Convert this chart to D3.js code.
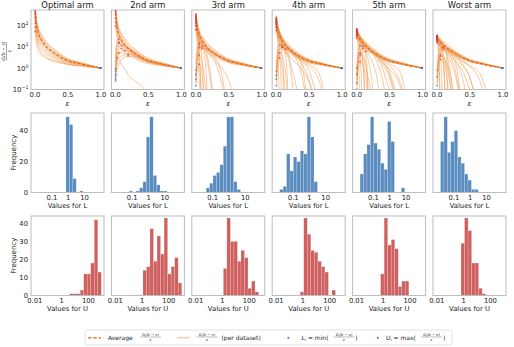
<!DOCTYPE html>
<html>
<head>
<meta charset="utf-8">
<script src="https://cdn.jsdelivr.net/npm/d3@7"></script>
<style>
  body { margin: 0; background: #fff; }
  svg { font-family: "DejaVu Sans", sans-serif; }
</style>
</head>
<body>
<svg id="chart" width="514" height="347"></svg>
<script>
// ---- data ----
const armTitles = ["Optimal arm", "2nd arm", "3rd arm", "4th arm", "5th arm", "Worst arm"];

// epsilon values where every curve is sampled
const epsGrid = [0.01, 0.03, 0.06, 0.1, 0.15, 0.2, 0.3, 0.4, 0.5, 0.65, 0.8, 1.0];

// average G(b-eps)/eps, one per arm
const avgCurves = [
  [420, 105, 40, 21, 12.5, 8.4, 4.9, 3.1, 2.2, 1.7, 1.32, 1.0],
  [380, 95, 37, 20, 12, 8.2, 4.8, 3.1, 2.2, 1.68, 1.32, 1.0],
  [200, 80, 35, 19, 11.5, 7.8, 4.5, 3.0, 2.2, 1.66, 1.31, 1.0],
  [140, 65, 32, 18, 11.3, 7.9, 4.6, 3.0, 2.15, 1.65, 1.3, 1.0],
  [40, 30, 21, 14.5, 10.2, 7.6, 4.6, 3.05, 2.2, 1.68, 1.32, 1.0],
  [24, 19.5, 15.5, 12, 9.1, 7.1, 4.5, 3.0, 2.2, 1.68, 1.32, 1.0]
];

// per dataset curves that stay in the main band
const bandCurves = [
  [
    [900, 200, 75, 40, 22, 14, 7.5, 4.3, 2.8, 2.0, 1.5, 1.0],
    [750, 170, 62, 33, 19, 12, 6.6, 4.0, 2.6, 1.9, 1.45, 1.0],
    [600, 140, 52, 28, 16, 10.5, 5.8, 3.6, 2.45, 1.8, 1.4, 1.0],
    [480, 115, 44, 24, 14, 9.2, 5.2, 3.3, 2.3, 1.75, 1.35, 1.0],
    [380, 95, 37, 20, 12, 8.0, 4.6, 3.0, 2.15, 1.65, 1.3, 1.0],
    [300, 78, 31, 17, 10, 6.9, 4.1, 2.7, 2.0, 1.6, 1.28, 1.0],
    [230, 62, 25, 14, 8.5, 6.0, 3.6, 2.5, 1.9, 1.5, 1.25, 1.0],
    [170, 48, 19, 11, 7.0, 5.0, 3.1, 2.2, 1.75, 1.45, 1.2, 1.0],
    [120, 35, 14, 8.0, 5.5, 4.0, 2.7, 2.0, 1.6, 1.38, 1.18, 1.0],
    [80, 25, 10, 5.5, 3.9, 3.0, 2.2, 1.8, 1.5, 1.3, 1.15, 1.0],
    [50, 14, 6, 4.2, 3.2, 2.6, 2.0, 1.7, 1.45, 1.28, 1.13, 1.0]
  ],
  [
    [900, 210, 78, 41, 23, 15, 7.8, 4.4, 2.9, 2.0, 1.5, 1.0],
    [700, 165, 62, 33, 19, 12.5, 6.7, 4.0, 2.6, 1.9, 1.45, 1.0],
    [520, 130, 50, 27, 16, 10.5, 5.8, 3.6, 2.45, 1.8, 1.4, 1.0],
    [400, 100, 40, 22, 13, 9.0, 5.1, 3.2, 2.3, 1.7, 1.35, 1.0],
    [300, 80, 32, 18, 11, 7.6, 4.5, 2.9, 2.1, 1.6, 1.3, 1.0],
    [210, 60, 25, 14, 9, 6.4, 3.9, 2.6, 1.95, 1.5, 1.25, 1.0],
    [140, 42, 18, 11, 7, 5.2, 3.3, 2.3, 1.8, 1.45, 1.2, 1.0],
    [90, 28, 12, 7.5, 5.2, 4.0, 2.7, 2.0, 1.6, 1.35, 1.15, 1.0]
  ],
  [
    [320, 140, 60, 32, 19, 12.5, 6.8, 4.0, 2.7, 1.95, 1.45, 1.0],
    [260, 110, 48, 26, 16, 10.8, 6.0, 3.7, 2.5, 1.85, 1.4, 1.0],
    [210, 88, 39, 22, 13.5, 9.3, 5.3, 3.4, 2.35, 1.75, 1.36, 1.0],
    [170, 70, 32, 18, 11.5, 8.0, 4.7, 3.1, 2.2, 1.68, 1.32, 1.0],
    [130, 55, 26, 15, 9.8, 7.0, 4.2, 2.85, 2.05, 1.6, 1.28, 1.0],
    [95, 42, 21, 12.5, 8.3, 6.0, 3.7, 2.6, 1.9, 1.5, 1.25, 1.0],
    [65, 30, 16, 10, 6.8, 5.0, 3.2, 2.3, 1.75, 1.42, 1.2, 1.0]
  ],
  [
    [230, 110, 52, 28, 17, 11.5, 6.3, 3.8, 2.6, 1.9, 1.42, 1.0],
    [190, 90, 43, 24, 14.5, 10, 5.6, 3.5, 2.45, 1.82, 1.38, 1.0],
    [155, 73, 36, 20, 12.5, 8.7, 5.0, 3.2, 2.3, 1.73, 1.34, 1.0],
    [125, 60, 30, 17, 10.8, 7.6, 4.5, 2.95, 2.15, 1.65, 1.3, 1.0],
    [100, 48, 25, 14.5, 9.3, 6.7, 4.0, 2.7, 2.0, 1.57, 1.27, 1.0],
    [75, 38, 20, 12, 8, 5.8, 3.6, 2.5, 1.87, 1.5, 1.24, 1.0],
    [55, 29, 16, 10, 6.8, 5.0, 3.2, 2.3, 1.75, 1.43, 1.2, 1.0]
  ],
  [
    [65, 48, 32, 22, 15, 11, 6.3, 3.9, 2.7, 1.95, 1.45, 1.0],
    [58, 42, 28, 19.5, 13.5, 10, 5.8, 3.6, 2.55, 1.87, 1.41, 1.0],
    [50, 36, 25, 17, 12, 9, 5.3, 3.4, 2.4, 1.8, 1.37, 1.0],
    [43, 31, 22, 15, 10.8, 8.1, 4.9, 3.2, 2.3, 1.73, 1.34, 1.0],
    [36, 27, 19, 13.5, 9.7, 7.3, 4.5, 3.0, 2.15, 1.66, 1.31, 1.0],
    [30, 23, 16.5, 12, 8.7, 6.6, 4.1, 2.8, 2.05, 1.6, 1.28, 1.0],
    [24, 19, 14, 10.5, 7.7, 5.9, 3.8, 2.6, 1.95, 1.54, 1.25, 1.0]
  ],
  [
    [33, 28, 22, 17, 12.5, 9.5, 5.8, 3.7, 2.6, 1.9, 1.43, 1.0],
    [30, 25, 19.5, 15, 11.2, 8.6, 5.3, 3.45, 2.45, 1.83, 1.4, 1.0],
    [27, 22, 17.5, 13.5, 10.2, 7.9, 4.9, 3.25, 2.35, 1.77, 1.37, 1.0],
    [24, 19.5, 15.5, 12, 9.2, 7.2, 4.6, 3.05, 2.25, 1.71, 1.34, 1.0],
    [21, 17, 13.5, 10.7, 8.3, 6.6, 4.3, 2.9, 2.15, 1.65, 1.31, 1.0],
    [18, 15, 12, 9.6, 7.5, 6, 4, 2.75, 2.05, 1.6, 1.28, 1.0],
    [15, 12.5, 10, 8.3, 6.6, 5.4, 3.6, 2.55, 1.95, 1.54, 1.25, 1.0]
  ]
];

// per dataset curves that start low at small eps and climb into the band
const riseCurves = [
  [],
  [
    [0.4, 3, 7, 8, 7.5, 6.5, 4.2, 2.9, 2.1, 1.6, 1.3, 1.0],
    [0.7, 5, 10, 11, 9, 7.5, 4.6, 3.0, 2.2, 1.65, 1.3, 1.0],
    [1.2, 8, 14, 13, 10, 8, 5, 3.2, 2.3, 1.7, 1.33, 1.0],
    [0.25, 1.5, 4, 6, 6.5, 5.8, 4.0, 2.8, 2.05, 1.6, 1.28, 1.0],
    [2, 12, 16, 14, 11, 8.5, 5.2, 3.3, 2.35, 1.72, 1.34, 1.0],
    [0.5, 2, 3, 3.5, 4, 4.2, 3.5, 2.6, 2.0, 1.55, 1.26, 1.0],
    [3, 20, 22, 17, 12, 9, 5.3, 3.35, 2.35, 1.72, 1.34, 1.0],
    [0.9, 4, 5, 5, 5, 4.8, 3.7, 2.7, 2.0, 1.57, 1.27, 1.0],
    [0.3, 0.8, 1.5, 2.5, 3.2, 3.6, 3.2, 2.5, 1.95, 1.54, 1.25, 1.0]
  ],
  [
    [0.3, 3, 8, 10, 8.5, 7, 4.4, 3.0, 2.15, 1.65, 1.3, 1.0],
    [0.15, 1.5, 5, 8, 8, 6.8, 4.3, 2.95, 2.1, 1.62, 1.29, 1.0],
    [0.8, 6, 12, 12, 9.5, 7.6, 4.6, 3.05, 2.2, 1.66, 1.31, 1.0],
    [0.5, 4, 9, 9, 7.5, 6.2, 4.0, 2.8, 2.05, 1.6, 1.28, 1.0],
    [1.5, 9, 15, 14, 10.5, 8.2, 4.9, 3.2, 2.25, 1.7, 1.33, 1.0]
  ],
  [
    [0.3, 2.5, 7, 9, 8, 6.8, 4.3, 2.9, 2.1, 1.62, 1.29, 1.0],
    [0.15, 1.2, 4, 7, 7.5, 6.5, 4.1, 2.85, 2.05, 1.6, 1.28, 1.0],
    [0.7, 5, 10, 11, 9, 7.3, 4.5, 3.0, 2.15, 1.65, 1.3, 1.0],
    [1.2, 7, 12, 12, 9.5, 7.6, 4.6, 3.05, 2.2, 1.67, 1.31, 1.0],
    [0.45, 3.5, 8, 9.5, 8.2, 6.9, 4.3, 2.9, 2.1, 1.62, 1.29, 1.0]
  ],
  [
    [0.2, 2, 6, 8, 7.5, 6.5, 4.2, 2.9, 2.1, 1.6, 1.28, 1.0],
    [0.5, 4, 9, 10, 8.5, 7, 4.4, 3.0, 2.15, 1.63, 1.3, 1.0],
    [0.1, 1, 3.5, 5.5, 6, 5.5, 3.9, 2.75, 2.05, 1.58, 1.27, 1.0],
    [1, 6, 11, 11, 9, 7.3, 4.5, 3.05, 2.2, 1.66, 1.31, 1.0]
  ],
  [
    [0.15, 1.5, 5, 7, 7, 6.2, 4.1, 2.85, 2.1, 1.6, 1.28, 1.0],
    [0.4, 3, 7, 8.5, 8, 6.8, 4.3, 2.95, 2.15, 1.63, 1.3, 1.0],
    [0.8, 5, 9, 9.5, 8.5, 7.1, 4.45, 3.0, 2.18, 1.65, 1.3, 1.0]
  ]
];

// per dataset curves that fall out of the bottom of the plot
const dropCurves = [
  [],
  [
    [1.5, 3, 2.5, 1.5, 0.9, 0.5, 0.25, 0.15, 0.06]
  ],
  [
    [250, 90, 35, 18, 8, 2, 0.005],
    [200, 70, 25, 10, 2, 0.005],
    [150, 50, 15, 3, 0.005],
    [120, 30, 5, 0.005],
    [300, 110, 45, 24, 14, 8, 3, 0.5, 0.005],
    [180, 60, 22, 11, 5, 1, 0.005],
    [90, 25, 4, 0.005],
    [0.2, 1, 1.5, 0.5, 0.005],
    [220, 80, 32, 17, 10, 6, 2, 0.2, 0.005],
    [0.4, 2.5, 4, 2, 0.2, 0.005],
    [140, 55, 24, 13, 7.5, 4.5, 2.2, 1, 0.3, 0.005],
    [60, 12, 0.3, 0.005]
  ],
  [
    [200, 95, 40, 20, 9, 3, 0.005],
    [160, 70, 28, 12, 4, 0.005],
    [120, 45, 15, 4, 0.005],
    [90, 28, 6, 0.005],
    [60, 12, 0.005],
    [210, 100, 48, 26, 15, 10, 4.5, 1.2, 0.005],
    [180, 85, 40, 22, 13, 8.5, 4, 1.5, 0.3, 0.005],
    [140, 65, 32, 18, 11, 7.5, 4, 2, 0.8, 0.02],
    [110, 50, 25, 14, 9, 6.3, 3.6, 2.1, 1.2, 0.3, 0.005],
    [170, 80, 38, 20, 12, 7.5, 3, 0.4, 0.005],
    [0.3, 2, 3, 1, 0.005],
    [0.6, 3.5, 5, 3, 0.6, 0.005],
    [130, 55, 24, 12, 6, 2.5, 0.2, 0.005],
    [80, 35, 16, 9, 5.5, 3.6, 1.8, 0.8, 0.25, 0.005],
    [150, 70, 34, 19, 11.5, 7.8, 4.2, 2.5, 1.5, 0.6, 0.005]
  ],
  [
    [60, 40, 22, 10, 3, 0.005],
    [55, 35, 15, 3, 0.005],
    [45, 25, 5, 0.005],
    [35, 10, 0.005],
    [62, 46, 30, 20, 13, 8, 2.5, 0.3, 0.005],
    [58, 42, 27, 18, 12, 8, 3.5, 1, 0.1, 0.005],
    [52, 38, 25, 17, 11.5, 8, 4, 1.8, 0.6, 0.005],
    [48, 35, 23, 16, 11, 7.8, 4.2, 2.4, 1.3, 0.3, 0.005],
    [40, 30, 20, 14, 10, 7.2, 4.1, 2.5, 1.6, 0.8, 0.01],
    [50, 36, 22, 13, 7, 3.5, 0.6, 0.005],
    [42, 30, 18, 10, 5, 1.5, 0.005],
    [0.3, 2, 4, 3, 1, 0.2, 0.005],
    [0.15, 1, 2, 1.5, 0.3, 0.005],
    [0.5, 3, 5, 4, 1.5, 0.005],
    [56, 40, 26, 17, 11, 7.5, 3.8, 1.5, 0.4, 0.005],
    [38, 28, 19, 13, 9, 6.5, 3.5, 1.8, 0.9, 0.2, 0.005],
    [30, 18, 8, 2, 0.005],
    [64, 47, 31, 21, 14, 9.5, 5, 2.2, 0.7, 0.02]
  ],
  [
    [30, 22, 10, 2, 0.005],
    [28, 18, 5, 0.005],
    [25, 12, 0.005],
    [20, 5, 0.005],
    [32, 26, 19, 12, 5, 1, 0.005],
    [29, 24, 18, 13, 8, 4, 0.5, 0.005],
    [26, 21, 16, 12, 8.5, 5.5, 2, 0.3, 0.005],
    [23, 19, 15, 11.5, 8.5, 6.3, 3.5, 1.5, 0.4, 0.005],
    [20, 17, 13.5, 10.5, 8, 6.2, 3.8, 2.2, 1.2, 0.3, 0.005],
    [31, 25, 18, 11, 4, 0.3, 0.005],
    [27, 20, 12, 5, 0.8, 0.005],
    [22, 16, 9, 3, 0.005],
    [0.2, 1.2, 2.5, 2, 0.6, 0.005],
    [0.5, 2.5, 4, 3.5, 1.8, 0.6, 0.005],
    [0.3, 2, 3.5, 3, 1.5, 0.2, 0.005],
    [24, 20, 15.5, 11.5, 8, 5.5, 2.8, 1.2, 0.4, 0.005],
    [17, 14, 11, 8.5, 6.5, 5, 3.2, 2.0, 1.3, 0.6, 0.03],
    [33, 27, 20, 14, 9, 5, 1.2, 0.005],
    [26, 21, 15, 10, 5.5, 2.5, 0.3, 0.005],
    [19, 15, 11, 8, 5.5, 3.8, 1.8, 0.7, 0.1, 0.005]
  ]
];

// histograms: 19 log-spaced bins, L over 1e-2..1e2, U over 1e-2..1e3
const lBinLog = [-2, 2];
const uBinLog = [-2, 3];
const binCount = 19;
const lFirstBin = [9, 4, 3, 1, 1, 1];
const lCounts = [
  [49, 44, 9, 0, 1],
  [1, 0, 1, 3, 7, 36, 49, 11, 5, 1, 1],
  [3, 6, 11, 13, 18, 30, 49, 49, 7, 2],
  [2, 4, 25, 14, 23, 20, 27, 25, 49, 36, 7],
  [12, 25, 31, 49, 32, 28, 19, 15, 46, 33, 0, 0, 3],
  [33, 49, 26, 33, 40, 23, 19, 12, 8, 2, 2]
];
const uFirstBin = [10, 8, 8, 7, 7, 7];
const uCounts = [
  [1, 1, 1, 3, 12, 12, 18, 42, 13],
  [14, 16, 37, 19, 33, 23, 43, 12, 16, 21, 7],
  [15, 43, 30, 30, 19, 25, 21, 4, 8, 2],
  [2, 43, 34, 25, 24, 19, 16, 13, 0, 3],
  [12, 43, 28, 31, 26, 5, 8, 8],
  [29, 43, 36, 18, 18, 4, 1]
];

const lTicks = [0.1, 1, 10];
const uTicks = [0.01, 1, 100];
const lFreqTicks = [0, 20, 40];
const uFreqTicks = [0, 10, 20, 30, 40];
const gTicks = [0.1, 1, 10, 100];
const epsTicks = [0, 0.5, 1];

// ---- layout ----
const svg = d3.select("#chart");
const colX = [31, 111.4, 191.8, 272.2, 352.6, 433];
const pw = 73, ph = 79.5;
const rowTop = [10, 113, 216];
const tickFont = 6.8;
const ink = "#222";
const spine = "#bdbdbd";

const lineOrange = "#f29a52";
const avgOrange = "#d9681a";
const blueDot = "#3a78b5";
const redDot = "#d83a3a";
const blueBar = "#5b8cbf";
const redBar = "#cf6060";

const x = d3.scaleLinear().domain([-0.053, 1.053]).range([0, pw]);
const yG = d3.scaleLog().domain([0.1, 500]).range([ph, 0]);
const xL = d3.scaleLog().domain([Math.pow(10, -2.25), Math.pow(10, 2.23)]).range([0, pw]);
const xU = d3.scaleLog().domain([Math.pow(10, -2.25), Math.pow(10, 3.2)]).range([0, pw]);
const yL = d3.scaleLinear().domain([0, 51.5]).range([ph, 0]);
const yU = d3.scaleLinear().domain([0, 44.1]).range([ph, 0]);

function styleAxis(g) {
  g.select(".domain").remove();
  g.attr("font-family", "DejaVu Sans, sans-serif").attr("font-size", tickFont);
  g.selectAll("text").attr("fill", ink);
}

function frame(g) {
  g.append("rect").attr("width", pw).attr("height", ph)
    .attr("fill", "none").attr("stroke", spine).attr("stroke-width", 1);
}

const supMinus = v => (v < 0 ? "\u2212" + Math.abs(v) : String(v));

const line = d3.line()
  .defined(d => d[1] != null)
  .x(d => x(d[0]))
  .y(d => yG(d[1]))
  .curve(d3.curveMonotoneX);

const toPairs = c => c.map((v, i) => [epsGrid[i], v]);

// ---- row 1: curves ----
armTitles.forEach((title, a) => {
  const g = svg.append("g").attr("transform", `translate(${colX[a]},${rowTop[0]})`);
  svg.append("clipPath").attr("id", "clip" + a)
    .append("rect").attr("width", pw).attr("height", ph);

  const body = g.append("g").attr("clip-path", `url(#clip${a})`);
  const all = bandCurves[a].concat(riseCurves[a], dropCurves[a]).map(toPairs);

  body.selectAll("path.ds").data(all).enter().append("path")
    .attr("class", "ds")
    .attr("d", line)
    .attr("fill", "none")
    .attr("stroke", lineOrange)
    .attr("stroke-opacity", 0.6)
    .attr("stroke-width", 0.9);

  body.append("path")
    .attr("d", line(toPairs(avgCurves[a])))
    .attr("fill", "none")
    .attr("stroke", avgOrange)
    .attr("stroke-width", 1.1)
    .attr("stroke-dasharray", "3,1.6");

  const mins = all.map(c => d3.least(c, d => d[1]));
  const maxs = all.map(c => d3.greatest(c, d => d[1]));
  body.selectAll("circle.mn").data(mins).enter().append("circle")
    .attr("cx", d => x(d[0])).attr("cy", d => yG(d[1])).attr("r", 0.9)
    .attr("fill", blueDot).attr("fill-opacity", 0.75);
  body.selectAll("circle.mx").data(maxs).enter().append("circle")
    .attr("cx", d => x(d[0])).attr("cy", d => yG(Math.min(d[1], 480))).attr("r", 0.9)
    .attr("fill", redDot).attr("fill-opacity", 0.75);

  frame(g);

  g.append("text").attr("x", pw / 2).attr("y", -2.5)
    .attr("text-anchor", "middle").attr("font-size", 8.4).attr("fill", ink)
    .text(title);

  const xa = g.append("g").attr("transform", `translate(0,${ph})`)
    .call(d3.axisBottom(x).tickValues(epsTicks).tickFormat(d3.format(".1f")).tickSize(0).tickPadding(3));
  styleAxis(xa);

  g.append("text").attr("x", pw / 2).attr("y", ph + 16.5)
    .attr("text-anchor", "middle").attr("font-size", 7).attr("font-style", "italic")
    .attr("fill", ink).text("\u03b5");

  if (a === 0) {
    const ya = g.append("g")
      .call(d3.axisLeft(yG).tickValues(gTicks).tickFormat(() => "").tickSize(0).tickPadding(2.5));
    styleAxis(ya);
    ya.selectAll(".tick text").each(function (d) {
      const t = d3.select(this);
      t.append("tspan").text("10");
      t.append("tspan").attr("dy", -2.8).attr("font-size", 4.8)
        .text(supMinus(Math.round(Math.log10(d))));
    });
  }
});

// y label of row 1: fraction G(b-eps)/eps rotated
{
  const f = svg.append("g").attr("transform", `translate(6.5,${rowTop[0] + 41}) rotate(-90)`);
  f.append("text").attr("y", -1.2).attr("text-anchor", "middle")
    .attr("font-size", 4.6).attr("font-style", "italic").attr("fill", ink)
    .text("G(b \u2212 \u03b5)");
  f.append("line").attr("x1", -9).attr("x2", 9).attr("y1", 0).attr("y2", 0)
    .attr("stroke", ink).attr("stroke-width", 0.4);
  f.append("text").attr("y", 4.4).attr("text-anchor", "middle")
    .attr("font-size", 4.6).attr("font-style", "italic").attr("fill", ink)
    .text("\u03b5");
}

// ---- rows 2 and 3: histograms ----
function histRow(row, xs, ys, binLog, firstBin, counts, color, xTicks, yTicks, label) {
  const step = (binLog[1] - binLog[0]) / binCount;
  const edge = k => Math.pow(10, binLog[0] + k * step);
  armTitles.forEach((t, a) => {
    const g = svg.append("g").attr("transform", `translate(${colX[a]},${rowTop[row]})`);
    const bars = counts[a].map((c, i) => ({ x0: edge(firstBin[a] + i), x1: edge(firstBin[a] + i + 1), c }));
    const cid = "hclip" + row + a;
    svg.append("clipPath").attr("id", cid).append("rect").attr("width", pw).attr("height", ph);
    g.append("g").attr("clip-path", `url(#${cid})`)
      .selectAll("rect").data(bars.filter(b => b.c > 0)).enter().append("rect")
      .attr("x", d => xs(d.x0))
      .attr("width", d => xs(d.x1) - xs(d.x0))
      .attr("y", d => ys(d.c))
      .attr("height", d => ph - ys(d.c))
      .attr("fill", color)
      .attr("stroke", "#ffffff").attr("stroke-opacity", 0.35).attr("stroke-width", 0.5);
    frame(g);

    const xa = g.append("g").attr("transform", `translate(0,${ph})`)
      .call(d3.axisBottom(xs).tickValues(xTicks).tickFormat(d => String(d)).tickSize(0).tickPadding(3));
    styleAxis(xa);
    g.append("text").attr("x", pw / 2).attr("y", ph + 15)
      .attr("text-anchor", "middle").attr("font-size", tickFont).attr("fill", ink)
      .text(label);

    if (a === 0) {
      const ya = g.append("g")
        .call(d3.axisLeft(ys).tickValues(yTicks).tickSize(0).tickPadding(3));
      styleAxis(ya);
      g.append("text").attr("transform", `translate(-15.5,${ph / 2}) rotate(-90)`)
        .attr("text-anchor", "middle").attr("font-size", 7).attr("fill", ink)
        .text("Frequency");
    }
  });
}

histRow(1, xL, yL, lBinLog, lFirstBin, lCounts, blueBar, lTicks, lFreqTicks, "Values for L");
histRow(2, xU, yU, uBinLog, uFirstBin, uCounts, redBar, uTicks, uFreqTicks, "Values for U");

// ---- legend ----
const lg = svg.append("g");
lg.append("rect").attr("x", 85).attr("y", 330).attr("width", 367).attr("height", 15)
  .attr("rx", 2).attr("fill", "#fff").attr("stroke", "#dcdcdc").attr("stroke-width", 0.8);
const ly = 337.8;

function frac(x0, w) {
  const f = lg.append("g").attr("transform", `translate(${x0 + w / 2},${ly - 0.8})`);
  const num = f.append("text").attr("y", -1).attr("text-anchor", "middle")
    .attr("font-size", 3.8).attr("font-style", "italic").attr("fill", ink);
  num.append("tspan").text("G");
  num.append("tspan").attr("font-size", 2.8).attr("dy", 0.8).text("i");
  num.append("tspan").attr("dy", -0.8).text("(b \u2212 \u03b5)");
  f.append("line").attr("x1", -w / 2).attr("x2", w / 2)
    .attr("stroke", ink).attr("stroke-width", 0.3);
  f.append("text").attr("y", 3.6).attr("text-anchor", "middle")
    .attr("font-size", 3.8).attr("font-style", "italic").attr("fill", ink).text("\u03b5");
}
function ltext(x0, parts) {
  const t = lg.append("text").attr("x", x0).attr("y", ly + 2.1)
    .attr("font-size", 6).attr("fill", ink);
  parts.forEach(p => {
    const s = t.append("tspan").text(p.s);
    if (p.it) s.attr("font-style", "italic");
    if (p.sub) s.attr("font-size", 4.2).attr("dy", 1.2);
    if (p.up) s.attr("dy", -1.2);
  });
}

lg.append("line").attr("x1", 88).attr("x2", 101).attr("y1", ly).attr("y2", ly)
  .attr("stroke", avgOrange).attr("stroke-width", 1.3).attr("stroke-dasharray", "3.5,1.8");
ltext(108, [{ s: "Average" }]);
frac(140, 21);

lg.append("line").attr("x1", 177).attr("x2", 190).attr("y1", ly).attr("y2", ly)
  .attr("stroke", lineOrange).attr("stroke-opacity", 0.7).attr("stroke-width", 1);
frac(196.5, 21);
ltext(221.5, [{ s: "(per dataset)" }]);

lg.append("circle").attr("cx", 288.3).attr("cy", ly).attr("r", 1).attr("fill", blueDot);
ltext(301.5, [{ s: "L", it: true }, { s: "i", it: true, sub: true }, { s: " = min(", up: true }]);
frac(333.5, 21);
ltext(355.3, [{ s: ")" }]);

lg.append("circle").attr("cx", 377.8).attr("cy", ly).attr("r", 1).attr("fill", redDot);
ltext(386, [{ s: "U", it: true }, { s: "i", it: true, sub: true }, { s: " = max(", up: true }]);
frac(421, 21);
ltext(443, [{ s: ")" }]);
</script>
</body>
</html>
